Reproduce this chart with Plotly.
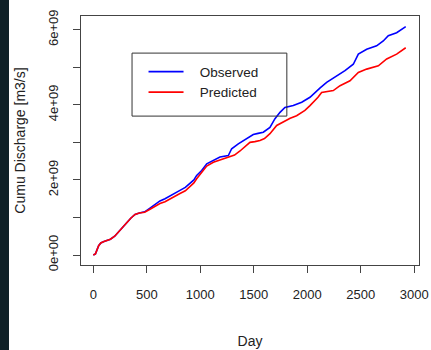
import plotly.graph_objects as go

obs_day = [0, 20, 50, 70, 100, 160, 200, 250, 300, 350, 390, 430, 480, 530, 590, 623, 670, 717, 770, 810,
           860, 903, 940, 966, 1013, 1060, 1122, 1184, 1262, 1293, 1355, 1401, 1449, 1495, 1540, 1589, 1651,
           1698, 1745, 1791, 1869, 1948, 2025, 2056, 2120, 2181, 2250, 2306, 2352, 2430, 2477, 2555, 2648,
           2710, 2757, 2835, 2880, 2920]
obs_val = [0, 0.03, 0.25, 0.32, 0.36, 0.42, 0.50, 0.65, 0.82, 0.98, 1.08, 1.12, 1.15, 1.25, 1.37, 1.44, 1.50,
           1.58, 1.65, 1.72, 1.80, 1.90, 2.00, 2.12, 2.25, 2.43, 2.52, 2.61, 2.65, 2.83, 2.96, 3.05, 3.13, 3.21,
           3.24, 3.27, 3.40, 3.63, 3.80, 3.93, 3.98, 4.07, 4.20, 4.29, 4.45, 4.60, 4.72, 4.82, 4.91, 5.08, 5.35,
           5.48, 5.57, 5.70, 5.84, 5.92, 6.00, 6.08]

pred_day = [0, 20, 50, 70, 100, 160, 200, 250, 300, 350, 390, 430, 480, 530, 590, 623, 670, 717, 770, 810,
            860, 903, 940, 966, 1013, 1060, 1122, 1215, 1278, 1320, 1371, 1420, 1464, 1510, 1558, 1600, 1651,
            1714, 1791, 1840, 1900, 1978, 2025, 2056, 2100, 2134, 2243, 2306, 2399, 2477, 2555, 2664, 2742,
            2835, 2880, 2920]
pred_val = [0, 0.03, 0.25, 0.32, 0.36, 0.42, 0.50, 0.65, 0.82, 0.98, 1.08, 1.12, 1.14, 1.22, 1.33, 1.37, 1.42,
            1.50, 1.57, 1.64, 1.71, 1.81, 1.92, 2.03, 2.20, 2.37, 2.47, 2.56, 2.61, 2.66, 2.77, 2.88, 3.00, 3.02,
            3.05, 3.10, 3.23, 3.45, 3.58, 3.64, 3.71, 3.85, 3.98, 4.07, 4.20, 4.33, 4.38, 4.51, 4.64, 4.86, 4.95,
            5.04, 5.22, 5.35, 5.43, 5.52]

x_ticks = [0, 500, 1000, 1500, 2000, 2500, 3000]
y_ticks = [0, 1e9, 2e9, 3e9, 4e9, 5e9, 6e9]
y_tick_text = ["0e+00", "", "2e+09", "", "4e+09", "", "6e+09"]

FONT = "Liberation Sans, Arial, sans-serif"
PAD = "\u00a0\u00a0\u00a0"

fig = go.Figure()
fig.add_trace(go.Scatter(x=obs_day, y=[v * 1e9 for v in obs_val], mode="lines", name=PAD + "Observed",
                         line=dict(color="#0000FF", width=1.6)))
fig.add_trace(go.Scatter(x=pred_day, y=[v * 1e9 for v in pred_val], mode="lines", name=PAD + "Predicted",
                         line=dict(color="#FF0000", width=1.6)))

axis_common = dict(showline=True, mirror=True, linecolor="#444", linewidth=1, showgrid=False,
                   zeroline=False, ticks="outside", ticklen=7, tickcolor="#444", tickwidth=1,
                   automargin=False,
                   tickfont=dict(family=FONT, size=13, color="#222"))

fig.update_layout(
    width=431, height=350,
    margin=dict(l=81, r=12, t=16, b=85),
    paper_bgcolor="white", plot_bgcolor="white",
    font=dict(family=FONT, size=13, color="#222"),
    xaxis=dict(range=[-115, 3044], tickvals=x_ticks, ticktext=[str(t) for t in x_ticks],
               ticklabelstandoff=10,
               title=dict(text="Day", font=dict(family=FONT, size=14, color="#222"), standoff=35),
               **axis_common),
    yaxis=dict(range=[-0.266e9, 6.365e9], tickvals=y_ticks, ticktext=y_tick_text, tickangle=-90,
               ticklabelstandoff=10,
               title=dict(text="Cumu Discharge [m3/s]", font=dict(family=FONT, size=14, color="#222"), standoff=16),
               **axis_common),
    legend=dict(x=0.185, y=0.838, xanchor="left", yanchor="top", bgcolor="rgba(0,0,0,0)",
                borderwidth=0, font=dict(family=FONT, size=13.5, color="#222"),
                itemwidth=35, tracegroupgap=0),
    showlegend=True,
    shapes=[
        dict(type="rect", xref="paper", yref="paper", x0=0.151, x1=0.609, y0=0.598, y1=0.851,
             line=dict(color="#333", width=1), fillcolor="rgba(0,0,0,0)", layer="above"),
        dict(type="rect", xref="paper", yref="paper", x0=-0.26, x1=-0.213, y0=-0.36, y1=1.08,
             line=dict(width=0), fillcolor="#0f2027", layer="below"),
    ],
)

fig.write_html("out.html")
